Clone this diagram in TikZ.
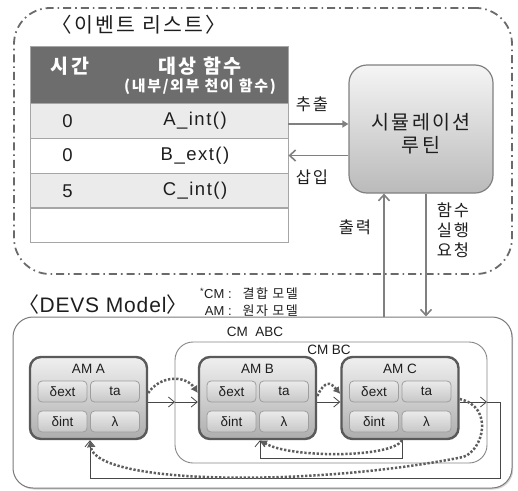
\documentclass[tikz,border=0pt]{standalone}
\usepackage{fontspec}
\setmainfont{Liberation Sans}
\newfontfamily\kr[LetterSpace=11]{Noto Sans CJK KR}
\newfontfamily\krtight{Noto Sans CJK KR}
\newfontfamily\widesans[LetterSpace=8]{Liberation Sans}
\newfontfamily\midsans[LetterSpace=4]{Liberation Sans}
\usetikzlibrary{arrows.meta,shadows}
\definecolor{hdrgray}{HTML}{6D6D6D}
\definecolor{rowgray}{HTML}{EBEBEB}
\definecolor{linegray}{HTML}{A6A6A6}
\definecolor{arrgray}{HTML}{808080}
\definecolor{ddgray}{HTML}{6A6A6A}
\definecolor{amedge}{HTML}{5A5A5A}
\definecolor{txt}{HTML}{1E1E1E}
\definecolor{dotgray}{HTML}{5E5E5E}
\definecolor{boxgray}{HTML}{7A7A7A}
\tikzset{
  evframe/.style={draw=ddgray, line width=1.8pt, dash pattern=on 8pt off 4pt on 1.6pt off 4pt,
    rounded corners=36pt, minimum width=498pt, minimum height=266pt, inner sep=0pt},
  hdrbox/.style={fill=hdrgray, draw=linegray, line width=0.8pt, minimum width=258pt, minimum height=57pt, inner sep=0pt},
  rowbox/.style={draw=linegray, line width=0.9pt, minimum width=258pt, minimum height=35pt, inner sep=0pt},
  hdrtxt/.style={text=white, inner sep=0pt},
  celltxt/.style={text=txt, inner sep=0pt, font=\widesans\fontsize{18.5}{18.5}\selectfont},
  simbox/.style={draw=arrgray, line width=1.2pt, rounded corners=18pt, top color=black!4, bottom color=black!27,
    minimum width=144pt, minimum height=128pt, inner sep=0pt},
  conn/.style={draw=arrgray, line width=1.6pt},
  openhead/.style={-{Straight Barb[length=6pt,width=11pt]}},
  lbl/.style={text=txt, inner sep=0pt, font=\kr\fontsize{16.5}{20}\selectfont, align=center},
  abcbox/.style={draw=boxgray, line width=1pt, fill=white, rounded corners=20pt, minimum width=499pt, minimum height=171pt,
    inner sep=0pt, drop shadow={shadow xshift=1.2pt, shadow yshift=-1.5pt, opacity=0.35}},
  bcbox/.style={draw=boxgray!90, line width=0.9pt, fill=white, rounded corners=18pt, minimum width=312pt, minimum height=121pt, inner sep=0pt},
  ambox/.style={draw=amedge, line width=2.4pt, rounded corners=11pt, top color=black!6, bottom color=black!32,
    minimum width=117pt, minimum height=82pt, inner sep=0pt},
  amcell/.style={draw=black!38, line width=0.8pt, rounded corners=4pt, top color=black!8, bottom color=black!22,
    minimum width=49pt, minimum height=21pt, inner sep=0pt, text=txt, font=\fontsize{13.5}{13.5}\selectfont},
  amlbl/.style={text=txt, inner sep=0pt, font=\fontsize{13.5}{13.5}\selectfont},
  cmlbl/.style={text=txt, inner sep=0pt, font=\fontsize{13.5}{13.5}\selectfont},
  flow/.style={draw=black!72, line width=0.8pt, -{Straight Barb[length=6pt,width=10pt]}},
  dots/.style={draw=dotgray, line width=2.5pt, dash pattern=on 2.3pt off 1.8pt, -{Latex[length=7pt,width=8pt]}},
}
\newcommand{\AMbox}[4]{%
  \node[ambox] (#1) at (#2,#3) {};
  \node[amlbl] (#1-t) at ([yshift=-13pt]#1.north) {#4};
  \node[amcell] (#1-ext) at ([shift={(-26,-6.5)}]#1.center) {δext};
  \node[amcell] (#1-ta) at ([shift={(26.5,-6.5)}]#1.center) {ta};
  \node[amcell] (#1-int) at ([shift={(-26,23.5)}]#1.center) {δint};
  \node[amcell] (#1-lam) at ([shift={(26.5,23.5)}]#1.center) {λ};
}
\begin{document}
\begin{tikzpicture}[x=1pt,y=-1pt]
\useasboundingbox (0,0) rectangle (518,490);
% ---------- event list frame ----------
\node[evframe] (frame) at (263,141) {};
\node[text=txt, inner sep=0pt, font=\kr\fontsize{20.5}{20.5}\selectfont] (evtitle) at (139,25) {〈이벤트 리스트〉};
% table
\node[hdrbox] (hdr) at (159,74.5) {};
\node[rowbox, fill=rowgray] (r1) at (159,120.5) {};
\node[rowbox] (r2) at (159,155.5) {};
\node[rowbox, fill=rowgray] (r3) at (159,190.5) {};
\node[rowbox] (r4) at (159,225) {};
\node[hdrtxt, font=\kr\bfseries\fontsize{19.5}{19.5}\selectfont] (hTime) at (70,66) {시간};
\node[hdrtxt, font=\kr\bfseries\fontsize{19.5}{19.5}\selectfont] (hFunc) at (200,66) {대상 함수};
\node[hdrtxt, font=\kr\bfseries\fontsize{15}{15}\selectfont] (hSub) at (200,87) {(내부/외부 천이 함수)};
\node[celltxt] (t1) at (67.5,121) {0};
\node[celltxt] (f1) at (195,121) {A\_int()};
\node[celltxt] (t2) at (67.5,155.5) {0};
\node[celltxt] (f2) at (195,155.5) {B\_ext()};
\node[celltxt] (t3) at (67.5,191) {5};
\node[celltxt] (f3) at (195,191) {C\_int()};
% simulation routine
\node[simbox] (sim) at (421,129) {};
\node[text=txt, inner sep=0pt, font=\kr\fontsize{19.5}{23}\selectfont, align=center] (simtxt) at (421,134) {시뮬레이션\\루틴};
\coordinate (exL) at ([yshift=-3.5pt]r1.east);
\draw[conn, -{Triangle[length=6pt,width=7pt]}] (exL) -- (exL -| sim.west);
\draw[conn, openhead] (r2.east -| sim.west) -- (r2.east);
\node[lbl] (lblEx) at (312,104.5) {추출};
\node[lbl] (lblIn) at (312,177.5) {삽입};
% ---------- DEVS model ----------
\node[text=txt, inner sep=0pt, font=\midsans\fontsize{21}{21}\selectfont] (devsTitle) at (103,305) {{\krtight 〈}DEVS Model{\krtight 〉}};
\node[text=txt, inner sep=0pt, anchor=west, font=\fontsize{13}{16.5}\selectfont] (legend) at (200,303.5)
  {\begin{tabular}{@{}r@{ :\hspace{11pt}}l@{}}\textsuperscript{*}CM & {\kr 결합 모델}\\ AM & {\kr 원자 모델}\end{tabular}};
\node[abcbox] (abc) at (262.5,402.5) {};
\node[cmlbl] (abcLbl) at (255,332) {CM\ \ ABC};
\node[bcbox] (bc) at (331,402.5) {};
\node[cmlbl] (bcLbl) at (329,349.5) {CM BC};
\AMbox{amA}{88.5}{398}{AM A}
\AMbox{amB}{257.5}{398}{AM B}
\AMbox{amC}{400}{398}{AM C}
% vertical links to simulation routine
\coordinate (upX) at ([xshift=-37pt]sim.south);
\coordinate (dnX) at ([xshift=5pt]sim.south);
\draw[conn, openhead] (upX |- abc.north) -- (upX);
\draw[conn, openhead] (dnX) -- (dnX |- abc.north);
\node[lbl] (lblOut) at (355,227) {출력};
\node[lbl] (lblReq) at (453,230) {함수\\실행\\요청};
% couplings
\coordinate (bcIn) at (175,402);
\coordinate (bcOut) at (487,402);
\coordinate (abcR) at (500,402);
\coordinate (abcB) at (500,478);
\coordinate (abcL) at (90,478);
\coordinate (lpR) at (402,458);
\coordinate (lpL) at (260,458);
\draw[flow] (amA.east |- bcIn) -- (bcIn);
\draw[flow] (bcIn) -- (amB.west |- bcIn);
\draw[flow] (amB.east |- bcIn) -- (amC.west |- bcIn);
\draw[flow] (amC.east |- bcIn) -- (bcOut);
\draw[flow] (bcOut) -- (abcR) -- (abcB) -- (abcL) -- (amA.south -| abcL);
\draw[flow] (amC.south -| lpR) -- (lpR) -- (lpL) -- (amB.south -| lpL);
% dotted message flow
\coordinate (cv1) at (463,457);
\draw[dots] ([yshift=5pt]amA.east) .. controls +(12,-18) and +(-12,-18) .. ([yshift=5pt]amB.west);
\draw[dots] ([yshift=2pt]amB.east) .. controls +(8,-16) and +(-10,-12) .. ([yshift=4pt]amC.west);
\draw[dots] ([yshift=-1pt]amC.east) .. controls +(35,8) and +(20,-6) .. (cv1) .. controls +(-150,30) and +(5,45) .. (amA.south -| abcL);
\draw[dots] (amC.south -| lpR) .. controls +(-10,18) and +(30,18) .. (amB.south -| lpL);
\end{tikzpicture}
\end{document}
